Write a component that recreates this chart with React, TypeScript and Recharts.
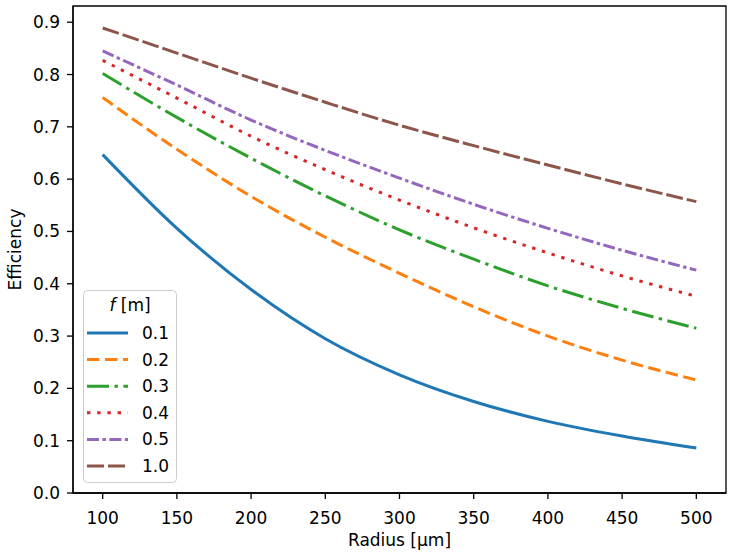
import {
  LineChart, Line, XAxis, YAxis, Legend, Label, ReferenceArea,
} from "recharts";

const FONT = "'DejaVu Sans', sans-serif";

// radius samples [µm]
const radius = [100, 150, 200, 250, 300, 350, 400, 450, 500];

// efficiency for each focal length f [m]
const effF01 = [0.647, 0.506, 0.389, 0.295, 0.226, 0.175, 0.137, 0.109, 0.086];
const effF02 = [0.756, 0.657, 0.567, 0.489, 0.42, 0.356, 0.3, 0.254, 0.216];
const effF03 = [0.802, 0.718, 0.64, 0.568, 0.503, 0.447, 0.396, 0.353, 0.315];
const effF04 = [0.827, 0.755, 0.682, 0.618, 0.56, 0.507, 0.459, 0.415, 0.376];
const effF05 = [0.845, 0.78, 0.713, 0.655, 0.602, 0.552, 0.506, 0.464, 0.426];
const effF10 = [0.889, 0.841, 0.793, 0.747, 0.703, 0.664, 0.627, 0.591, 0.557];

const xTicks = [100, 150, 200, 250, 300, 350, 400, 450, 500];
const yTicks = [0, 0.1, 0.2, 0.3, 0.4, 0.5, 0.6, 0.7, 0.8, 0.9];

const X_DOMAIN: [number, number] = [80, 520];
const Y_DOMAIN: [number, number] = [0, 0.931];

const SERIES = [
  { key: "f01", label: "0.1", values: effF01, color: "#1f77b4", dash: undefined },
  { key: "f02", label: "0.2", values: effF02, color: "#ff7f0e", dash: "12.5 5.5" },
  { key: "f03", label: "0.3", values: effF03, color: "#2ca02c", dash: "22 5.5 3.4 5.5" },
  { key: "f04", label: "0.4", values: effF04, color: "#d62728", dash: "3.4 6.8" },
  { key: "f05", label: "0.5", values: effF05, color: "#9467bd", dash: "12 3.5 3.4 3.5" },
  { key: "f10", label: "1.0", values: effF10, color: "#8c564b", dash: "17 4" },
];

const data = radius.map((r, i) => {
  const row: Record<string, number> = { radius: r };
  SERIES.forEach((s) => { row[s.key] = s.values[i]; });
  return row;
});

const tickStyle = { fontSize: 17, fill: "#000", fontFamily: FONT };
const spine = { stroke: "#000", strokeWidth: 1.3 };

function FocalLegend({ payload }: any) {
  const rows = payload || [];
  return (
    <svg width={94} height={193} style={{ display: "block" }}>
      <rect x={0.5} y={0.5} width={93} height={192} rx={4} fill="#fff" fillOpacity={0.8} stroke="#cccccc" />
      <text x={47} y={21} textAnchor="middle" fontSize={17} fontFamily={FONT} fill="#000">
        <tspan fontStyle="italic">f</tspan> [m]
      </text>
      {rows.map((p: any, i: number) => {
        const s = SERIES.find((d) => d.key === p.dataKey);
        const cy = 43 + i * 26.6;
        return (
          <g key={p.dataKey}>
            <line x1={4} x2={45} y1={cy} y2={cy} stroke={p.color} strokeWidth={3}
              strokeDasharray={s?.dash} />
            <text x={59} y={cy + 6} fontSize={17} fontFamily={FONT} fill="#000">{s?.label}</text>
          </g>
        );
      })}
    </svg>
  );
}

export default function App() {
  return (
    <div style={{ position: "absolute", left: 0, top: 0, background: "#fff" }}>
      <LineChart width={733} height={555} data={data}
        margin={{ top: 6, right: 7, bottom: 0, left: 0 }}>
        <XAxis dataKey="radius" type="number" domain={X_DOMAIN} ticks={xTicks}
          allowDataOverflow height={62} tickSize={6} tickMargin={13}
          tick={tickStyle} axisLine={spine} tickLine={{ stroke: "#000", strokeWidth: 1.3 }}>
          <Label value="Radius [µm]" position="insideBottom" offset={9}
            style={{ fontSize: 17, fill: "#000", fontFamily: FONT }} />
        </XAxis>
        <YAxis type="number" domain={Y_DOMAIN} ticks={yTicks} allowDataOverflow
          width={73} tickSize={6} tickMargin={7} tick={tickStyle}
          tickFormatter={(v: number) => v.toFixed(1)}
          axisLine={spine} tickLine={{ stroke: "#000", strokeWidth: 1.3 }}>
          <Label value="Efficiency" angle={-90} position="insideLeft" offset={15}
            style={{ fontSize: 17, fill: "#000", fontFamily: FONT, textAnchor: "middle" }} />
        </YAxis>
        {/* full frame around the plot area */}
        <ReferenceArea x1={X_DOMAIN[0]} x2={X_DOMAIN[1]} y1={Y_DOMAIN[0]} y2={Y_DOMAIN[1]}
          fill="none" stroke="#000" strokeWidth={1.3} ifOverflow="visible" />
        {SERIES.map((s) => (
          <Line key={s.key} type="monotone" dataKey={s.key} name={s.label}
            stroke={s.color} strokeWidth={3} strokeDasharray={s.dash}
            dot={false} activeDot={false} isAnimationActive={false} />
        ))}
        <Legend layout="horizontal" verticalAlign="middle" align="center"
          content={<FocalLegend />}
          wrapperStyle={{ left: 83, top: 290, width: 94, height: 193 }} />
      </LineChart>
    </div>
  );
}
